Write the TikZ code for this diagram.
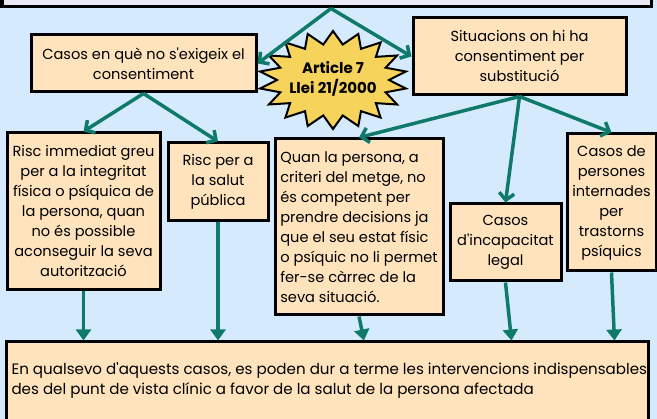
\documentclass[tikz,border=0pt]{standalone}
\usepackage{fontspec}
\setmainfont{Poppins}
\usepackage{tikz}
\usetikzlibrary{arrows.meta}

\definecolor{bgblue}{HTML}{D5EBFD}
\definecolor{peach}{HTML}{FEE3BD}
\definecolor{lavender}{HTML}{E9E8F7}
\definecolor{stargold}{HTML}{F6D35B}
\definecolor{linkteal}{HTML}{0F7A6B}

\newcommand{\apos}{\textquotesingle}

\tikzset{
  box/.style={draw=black, line width=3pt, fill=peach, align=center, inner sep=3pt},
  link/.style={draw=linkteal, line width=3.5pt, -{Straight Barb[length=7pt,width=15pt]}},
  linkend/.style={draw=linkteal, line width=3.5pt, -{Triangle[length=11pt,width=15pt]}},
}

\begin{document}
\begin{tikzpicture}[x=1pt, y=-1pt, font=\fontsize{14.6}{20}\selectfont]
        \fill [bgblue] (0,0) rectangle (657,419);                    % background
        \useasboundingbox (0,0) rectangle (657,419);

        % top of the chart, cut off by the frame
        \node [box, fill=lavender, minimum width=649pt, minimum height=24pt] (top) at (326.5,-5) {};

        % first row
        \node [box, minimum width=225pt, minimum height=57pt] (casosno)    at (143.5,63.5) {Casos en què no s\apos exigeix el\\consentiment};
        \node [box, minimum width=213pt, minimum height=77pt] (situacions) at (519.5,56.5) {Situacions on hi ha\\consentiment per\\substitució};

        % star
        \draw [line width=2pt, fill=stargold]
              plot [samples at={0,...,35}] ({333+ifthenelse(mod(\x,2)==1,74,56)*cos(\x*10)}, {80+ifthenelse(mod(\x,2)==1,49,36)*sin(\x*10)}) -- cycle;
        \node [align=center, font=\fontsize{15}{20}\selectfont\bfseries] (article) at (333,79) {Article 7\\Llei 21/2000};

        % second row
        \node [box, minimum width=153pt, minimum height=157pt] (risc)   at (83.5,211.5) {Risc immediat greu\\per a la integritat\\física o psíquica de\\la persona, quan\\no és possible\\aconseguir la seva\\autorització};
        \node [box, minimum width=100pt, minimum height=78pt]  (salut)  at (218,182)    {Risc per a\\la salut\\pública};
        \node [box, minimum width=168pt, minimum height=176pt, align=left] (quan) at (359,227) {Quan la persona, a\\criteri del metge, no\\és competent per\\prendre decisions ja\\que el seu estat físic\\o psíquic no li permet\\fer-se càrrec de la\\seva situació.};
        \node [box, minimum width=111pt, minimum height=77pt]  (incap)  at (505.5,242.5) {Casos\\d\apos incapacitat\\legal};
        \node [box, minimum width=89pt, minimum height=137pt]  (intern) at (611.5,202.5) {Casos de\\persones\\internades\\per\\trastorns\\psíquics};

        % bottom
        \node [box, minimum width=642pt, minimum height=86pt] (final) at (327.5,385) {};
        \node [anchor=west, align=left, font=\fontsize{15.1}{20}\selectfont] (finaltext) at (8,380)
              {En qualsevo d\apos aquests casos, es poden dur a terme les intervencions indispensables\\des del punt de vista clínic a favor de la salut de la persona afectada};

        % connectors
        \draw [link] ([xshift=4.5pt]top.south) -- (casosno.east);
        \draw [link] ([xshift=4.5pt]top.south) -- (situacions.west);
        \draw [link] (casosno.south)    -- (risc.north);
        \draw [link] (casosno.south)    -- (salut.north);
        \draw [link] (situacions.south) -- (quan.north);
        \draw [link] (situacions.south) -- (incap.north);
        \draw [link] (situacions.south) -- (intern.north);

        \draw [linkend] (risc.south)   -- (risc.south |- final.north);
        \draw [linkend] (salut.south)  -- (salut.south |- final.north);
        \draw [linkend] (quan.south)   -- ([xshift=5pt]quan.south |- final.north);
        \draw [linkend] (incap.south)  -- ([xshift=6pt]incap.south |- final.north);
        \draw [linkend] (intern.south) -- ([xshift=3pt]intern.south |- final.north);
\end{tikzpicture}
\end{document}
